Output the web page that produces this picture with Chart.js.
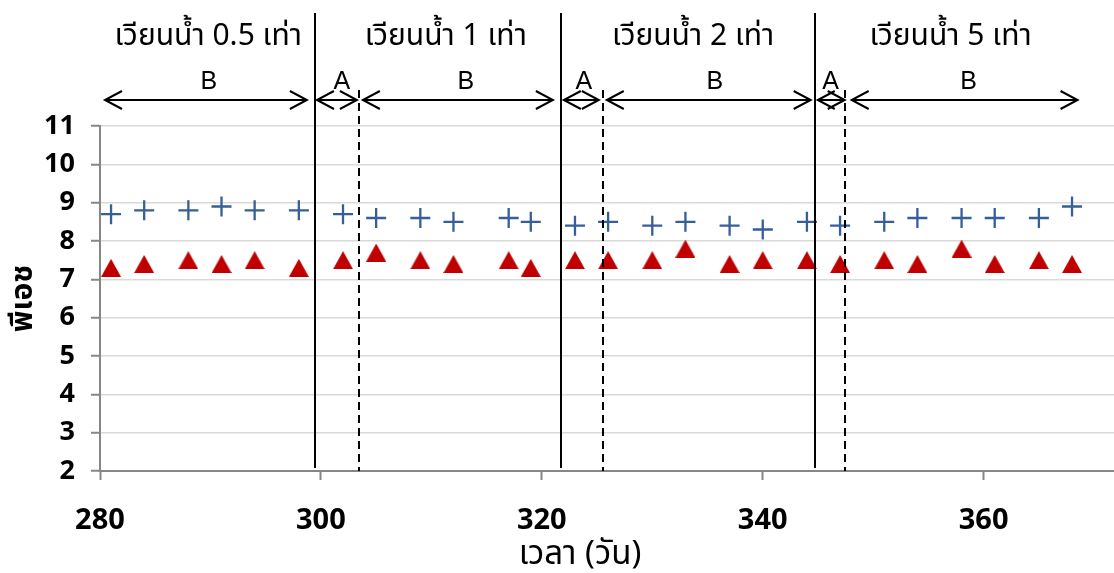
<!DOCTYPE html>
<html>
<head>
<meta charset="utf-8">
<script src="https://cdn.jsdelivr.net/npm/chart.js@4/dist/chart.umd.min.js"></script>
<style>
  html, body { margin: 0; padding: 0; background: #fff; overflow: hidden; }
  #wrap { width: 1114px; height: 573px; }
</style>
</head>
<body>
<div id="wrap"><canvas id="c" width="1114" height="573"></canvas></div>
<script>
// Sampling days and measured pH
const days = [281, 284, 288, 291, 294, 298, 302, 305, 309, 312, 317, 319, 323,
              326, 330, 333, 337, 340, 344, 347, 351, 354, 358, 361, 365, 368];
const phCross = [8.7, 8.8, 8.8, 8.9, 8.8, 8.8, 8.7, 8.6, 8.6, 8.5, 8.6, 8.5, 8.4,
                 8.5, 8.4, 8.5, 8.4, 8.3, 8.5, 8.4, 8.5, 8.6, 8.6, 8.6, 8.6, 8.9];
const phTriangle = [7.3, 7.4, 7.5, 7.4, 7.5, 7.3, 7.5, 7.7, 7.5, 7.4, 7.5, 7.3, 7.5,
                    7.5, 7.5, 7.8, 7.4, 7.5, 7.5, 7.4, 7.5, 7.4, 7.8, 7.4, 7.5, 7.4];

// Axis ticks
const xTickValues = [280, 300, 320, 340, 360];
const yTickValues = [2, 3, 4, 5, 6, 7, 8, 9, 10, 11];

// Recirculation periods (day where each period starts) and their captions
const ratioNames = ['เวียนน้ำ 0.5 เท่า', 'เวียนน้ำ 1 เท่า', 'เวียนน้ำ 2 เท่า', 'เวียนน้ำ 5 เท่า'];
const ratioCaptionDay = [289.8, 311.3, 333.7, 357.0];
const ratioStartDay = [299.46, 321.72, 344.7];
// End of the adaptation stage (A) inside each period
const stageSplitDay = [303.44, 325.52, 347.42];
// Stage spans drawn as double arrows
const stageNames = ['B', 'A', 'B', 'A', 'B', 'A', 'B'];
const stageFromDay = [280.45, 299.64, 303.8, 321.99, 325.88, 344.98, 348.05];
const stageToDay = [298.73, 303.26, 321.0, 325.16, 344.34, 347.42, 368.5];
const stageLabelDay = [289.86, 301.9, 313.12, 323.8, 335.66, 346.15, 358.64];

const thaiFont = '"Noto Sans Thai", "Noto Sans Thai UI", "Noto Sans", "DejaVu Sans", sans-serif';
const numFont = '"Noto Sans", "Open Sans", sans-serif';

// Filled triangle marker centred on its bounding box
function makeTriangle(w, h, color) {
  const c = document.createElement('canvas');
  c.width = w; c.height = h;
  const g = c.getContext('2d');
  g.fillStyle = color;
  g.beginPath();
  g.moveTo(0, h);
  g.lineTo(w / 2, 0);
  g.lineTo(w, h);
  g.closePath();
  g.fill();
  return c;
}
const triangleMarker = makeTriangle(20, 18, '#C00000');

function arrowHead(ctx, x, y, dir) {
  ctx.beginPath();
  ctx.moveTo(x + dir * 17, y - 9);
  ctx.lineTo(x, y);
  ctx.lineTo(x + dir * 17, y + 9);
  ctx.stroke();
}

const phasePlugin = {
  id: 'phaseNotes',
  afterDatasetsDraw(chart) {
    const { ctx, chartArea, scales: { x } } = chart;
    ctx.save();
    ctx.strokeStyle = '#000';
    ctx.fillStyle = '#000';
    ctx.lineWidth = 2;

    // period boundaries
    ratioStartDay.forEach(d => {
      const px = Math.round(x.getPixelForValue(d));
      ctx.beginPath();
      ctx.moveTo(px, 13);
      ctx.lineTo(px, chartArea.bottom - 3);
      ctx.stroke();
    });
    ctx.setLineDash([8, 5]);
    stageSplitDay.forEach(d => {
      const px = Math.round(x.getPixelForValue(d));
      ctx.beginPath();
      ctx.moveTo(px, 90);
      ctx.lineTo(px, chartArea.bottom);
      ctx.stroke();
    });
    ctx.setLineDash([]);

    // stage arrows
    const ay = 100;
    ctx.font = '25px "Liberation Sans", Arial, sans-serif';
    ctx.textAlign = 'center';
    ctx.textBaseline = 'middle';
    stageNames.forEach((name, i) => {
      const x1 = x.getPixelForValue(stageFromDay[i]);
      const x2 = x.getPixelForValue(stageToDay[i]);
      ctx.beginPath();
      ctx.moveTo(x1, ay);
      ctx.lineTo(x2, ay);
      ctx.stroke();
      arrowHead(ctx, x1, ay, 1);
      arrowHead(ctx, x2, ay, -1);
      ctx.fillText(name, x.getPixelForValue(stageLabelDay[i]), 82);
    });

    // period captions
    ctx.font = '30px ' + thaiFont;
    ratioNames.forEach((t, i) => {
      ctx.fillText(t, x.getPixelForValue(ratioCaptionDay[i]), 39);
    });

    // x-axis title
    ctx.font = '33px ' + thaiFont;
    ctx.fillText('เวลา (วัน)', 580, 557);
    ctx.restore();
  }
};

new Chart(document.getElementById('c'), {
  type: 'scatter',
  data: {
    datasets: [
      {
        label: 'pH +',
        data: days.map((d, i) => ({ x: d, y: phCross[i] })),
        pointStyle: 'cross',
        pointRadius: 10,
        pointHoverRadius: 10,
        pointBorderWidth: 2.3,
        pointBorderColor: '#365F9A',
        pointBackgroundColor: '#365F9A'
      },
      {
        label: 'pH ▲',
        data: days.map((d, i) => ({ x: d, y: phTriangle[i] })),
        pointStyle: triangleMarker,
        pointRadius: 10,
        pointHoverRadius: 10,
        pointBorderWidth: 0,
        pointBackgroundColor: '#C00000'
      }
    ]
  },
  options: {
    responsive: false,
    animation: false,
    devicePixelRatio: 1,
    layout: { autoPadding: false, padding: { top: 126, right: 0, left: 0, bottom: 0 } },
    plugins: { legend: { display: false }, tooltip: { enabled: false } },
    scales: {
      x: {
        type: 'linear',
        min: 280,
        max: 371.8,
        afterBuildTicks: s => { s.ticks = xTickValues.map(v => ({ value: v })); },
        afterFit: s => { s.height = 102; s.paddingLeft = 0; s.paddingRight = 0; },
        ticks: {
          padding: 23,
          color: '#000',
          font: { family: numFont, size: 29, weight: 'bold' }
        },
        grid: { drawOnChartArea: false, tickLength: 9, tickColor: '#868686', tickWidth: 2 },
        border: { color: '#868686', width: 2 }
      },
      y: {
        type: 'linear',
        min: 2,
        max: 11,
        afterBuildTicks: s => { s.ticks = yTickValues.map(v => ({ value: v })); },
        afterFit: s => { s.width = 100; },
        ticks: {
          padding: 16,
          color: '#000',
          font: { family: numFont, size: 27, weight: 'bold' }
        },
        grid: { color: '#D9D9D9', lineWidth: 1.5, tickLength: 9, tickColor: '#868686', tickWidth: 2 },
        border: { color: '#868686', width: 2 },
        title: {
          display: true,
          text: 'พีเอช',
          color: '#000',
          padding: { top: 8, bottom: 0 },
          font: { family: thaiFont, size: 30, weight: 'bold' }
        }
      }
    }
  },
  plugins: [phasePlugin]
});
</script>
</body>
</html>
